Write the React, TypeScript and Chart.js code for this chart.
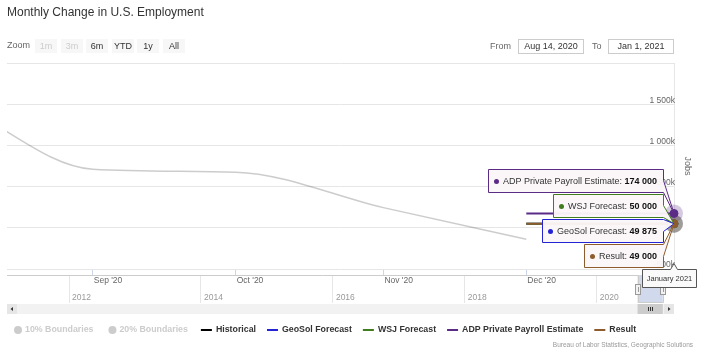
import React, { useEffect, useRef } from 'react';
import { Chart, registerables } from 'chart.js';

Chart.register(...registerables);

// ---------------- data ----------------
const historicalMonths = ['2020-07-01', '2020-08-01', '2020-09-01', '2020-10-01', '2020-11-01', '2020-12-01'];
const historicalJobs = [1763000, 1550000, 711000, 675000, 245000, -140000];
const forecastMonths = ['2020-12-01', '2021-01-01'];
const geoSolJobs = [49875, 49875];
const wsjJobs = [50000, 50000];
const adpJobs = [174000, 174000];
const resultJobs = [49000, 49000];

const rangeFrom = '2020-08-14';
const rangeTo = '2021-01-01';
const monthTickDates = ['2020-09-01', '2020-10-01', '2020-11-01', '2020-12-01'];
const monthTickLabels = ["Sep '20", "Oct '20", "Nov '20", "Dec '20"];
const jobTicks = [-500000, 0, 500000, 1000000, 1500000, 2000000];
const navigatorYears = [2012, 2014, 2016, 2018, 2020];
const navigatorRange = [2011.06, 2021.17];
const zoomButtons = ['1m', '3m', '6m', 'YTD', '1y', 'All'];
const disabledZoomButtons = ['1m', '3m'];
const hiddenLegendNames = ['10% Boundaries', '20% Boundaries'];
const seriesNames = ['Historical', 'GeoSol Forecast', 'WSJ Forecast', 'ADP Private Payroll Estimate', 'Result'];
const seriesColors = ['#000000', '#2424d4', '#3f7d1f', '#5b2c86', '#8e5c2c'];
const titleText = 'Monthly Change in U.S. Employment';
const fromText = 'Aug 14, 2020';
const toText = 'Jan 1, 2021';
const tooltipDateText = 'January 2021';
const creditsText = 'Bureau of Labor Statistics, Geographic Solutions';
const yAxisTitle = 'Jobs';

// ---------------- helpers ----------------
const FAMILY = '"Liberation Sans", Arial, sans-serif';
const font = (size: number, bold = false) => `${bold ? 'bold ' : ''}${size}px ${FAMILY}`;
const dayOf = (s: string) => {
  const [y, m, d] = s.split('-').map(Number);
  return Date.UTC(y, m - 1, d) / 86400000;
};
const yearFrac = (s: string) => {
  const [y] = s.split('-').map(Number);
  const start = Date.UTC(y, 0, 1) / 86400000;
  const end = Date.UTC(y + 1, 0, 1) / 86400000;
  return y + (dayOf(s) - start) / (end - start);
};
const spaced = (v: number) => v.toLocaleString('en-US').replace(/,/g, ' ');
const rgba = (hex: string, a: number) => {
  const n = parseInt(hex.slice(1), 16);
  return `rgba(${(n >> 16) & 255},${(n >> 8) & 255},${n & 255},${a})`;
};

const forecastSeries = [geoSolJobs, wsjJobs, adpJobs, resultJobs];

// ---------------- plugins ----------------
const haloPlugin = {
  id: 'halo',
  beforeDatasetsDraw(chart: any) {
    const ctx = chart.ctx;
    ctx.save();
    [1, 2, 3, 4].forEach((i) => {
      const pt = chart.getDatasetMeta(i).data[1];
      if (!pt) return;
      ctx.fillStyle = rgba(seriesColors[i], 0.25);
      ctx.beginPath();
      ctx.arc(pt.x, pt.y, 9, 0, Math.PI * 2);
      ctx.fill();
    });
    ctx.restore();
  },
};

function callout(ctx: any, bx: number, by: number, bw: number, bh: number, ax: number, ay: number) {
  const r = bx + bw;
  const c = Math.min(Math.max(ay, by + 6), by + bh - 6);
  ctx.beginPath();
  ctx.moveTo(bx, by);
  ctx.lineTo(r, by);
  ctx.lineTo(r, c - 6);
  ctx.lineTo(ax, ay);
  ctx.lineTo(r, c + 6);
  ctx.lineTo(r, by + bh);
  ctx.lineTo(bx, by + bh);
  ctx.closePath();
}

const overlayPlugin = {
  id: 'overlay',
  afterDraw(chart: any) {
    const ctx = chart.ctx;
    const nav = chart.scales.nav;
    const xs = chart.scales.x;
    const area = chart.chartArea;
    ctx.save();

    // ---- navigator mask, outline, handles ----
    const mx0 = nav.getPixelForValue(yearFrac(rangeFrom));
    const mx1 = nav.getPixelForValue(yearFrac(rangeTo));
    const nTop = nav.top;
    const nBot = nav.bottom;
    ctx.fillStyle = 'rgba(102,133,194,0.3)';
    ctx.fillRect(mx0, nTop, mx1 - mx0, nBot - nTop);
    ctx.strokeStyle = '#cccccc';
    ctx.lineWidth = 1;
    ctx.beginPath();
    ctx.moveTo(area.left, nTop + 0.5);
    ctx.lineTo(Math.round(mx0) + 0.5, nTop + 0.5);
    ctx.lineTo(Math.round(mx0) + 0.5, nBot - 0.5);
    ctx.lineTo(Math.round(mx1) + 0.5, nBot - 0.5);
    ctx.lineTo(Math.round(mx1) + 0.5, nTop + 0.5);
    ctx.lineTo(area.right, nTop + 0.5);
    ctx.stroke();
    [mx0, mx1].forEach((hx) => {
      const hy = nTop + 9;
      ctx.fillStyle = '#f2f2f2';
      ctx.strokeStyle = '#999999';
      ctx.fillRect(Math.round(hx) - 2.5, hy, 5, 10);
      ctx.strokeRect(Math.round(hx) - 2.5, hy + 0.5, 5, 10);
      ctx.beginPath();
      ctx.moveTo(Math.round(hx) + 0.5, hy + 3);
      ctx.lineTo(Math.round(hx) + 0.5, hy + 8);
      ctx.stroke();
    });

    // ---- scrollbar ----
    const sy = nBot + 1;
    const sh = 10;
    ctx.fillStyle = '#f2f2f2';
    ctx.fillRect(area.left, sy, area.right - area.left, sh);
    ctx.fillStyle = '#e6e6e6';
    ctx.fillRect(area.left, sy, 10, sh);
    ctx.fillRect(area.right - 10, sy, 10, sh);
    ctx.fillStyle = '#cccccc';
    ctx.fillRect(mx0, sy, mx1 - mx0, sh);
    ctx.fillStyle = '#333333';
    ctx.beginPath();
    ctx.moveTo(area.left + 3.5, sy + 5);
    ctx.lineTo(area.left + 6, sy + 3);
    ctx.lineTo(area.left + 6, sy + 7);
    ctx.fill();
    ctx.beginPath();
    ctx.moveTo(area.right - 3.5, sy + 5);
    ctx.lineTo(area.right - 6, sy + 3);
    ctx.lineTo(area.right - 6, sy + 7);
    ctx.fill();
    ctx.strokeStyle = '#333333';
    const rc = Math.round((mx0 + mx1) / 2);
    [-2, 0, 2].forEach((d) => {
      ctx.beginPath();
      ctx.moveTo(rc + d + 0.5, sy + 3);
      ctx.lineTo(rc + d + 0.5, sy + 7);
      ctx.stroke();
    });

    // ---- split tooltips ----
    const entries = [1, 2, 3, 4]
      .map((i) => {
        const pt = chart.getDatasetMeta(i).data[1];
        return { name: seriesNames[i], color: seriesColors[i], value: forecastSeries[i - 1][1], x: pt.x, y: pt.y };
      })
      .sort((a, b) => b.value - a.value);
    const bh = 23;
    const gap = 2;
    const total = entries.length * bh + (entries.length - 1) * gap;
    const meanY = entries.reduce((s, e) => s + e.y, 0) / entries.length;
    let by = Math.round(meanY - total / 2) - 3;
    entries.forEach((e) => {
      ctx.font = font(9);
      const label = `${e.name}: `;
      const lw = ctx.measureText(label).width;
      ctx.font = font(9, true);
      const val = spaced(e.value);
      const vw = ctx.measureText(val).width;
      const bw = Math.round(15 + lw + vw + 6);
      const right = Math.round(e.x) - 11;
      const bx = right - bw;
      callout(ctx, bx + 0.5, by + 0.5, bw, bh, e.x, e.y);
      ctx.fillStyle = 'rgba(251,247,248,0.96)';
      ctx.fill();
      ctx.strokeStyle = e.color;
      ctx.lineWidth = 1;
      ctx.stroke();
      const cy = by + bh / 2 + 1;
      ctx.fillStyle = e.color;
      ctx.beginPath();
      ctx.arc(bx + 8.5, cy, 2.5, 0, Math.PI * 2);
      ctx.fill();
      ctx.textBaseline = 'middle';
      ctx.textAlign = 'left';
      ctx.font = font(9);
      ctx.fillStyle = '#333333';
      ctx.fillText(label, bx + 15, cy);
      ctx.font = font(9, true);
      ctx.fillStyle = '#111111';
      ctx.fillText(val, bx + 15 + lw, cy);
      by += bh + gap;
    });

    // ---- x axis crosshair label ----
    const ax = xs.getPixelForValue(dayOf(rangeTo));
    ctx.font = font(7.5);
    const tw = ctx.measureText(tooltipDateText).width;
    const tbw = Math.round(tw + 9);
    const tbx = Math.min(Math.round(ax - tbw / 2), 696 - tbw);
    const tby = area.bottom;
    const tbh = 18;
    ctx.beginPath();
    ctx.moveTo(tbx + 0.5, tby + 0.5);
    ctx.lineTo(ax - 3.5, tby + 0.5);
    ctx.lineTo(ax, tby - 5.5);
    ctx.lineTo(ax + 3.5, tby + 0.5);
    ctx.lineTo(tbx + tbw + 0.5, tby + 0.5);
    ctx.lineTo(tbx + tbw + 0.5, tby + tbh + 0.5);
    ctx.lineTo(tbx + 0.5, tby + tbh + 0.5);
    ctx.closePath();
    ctx.fillStyle = 'rgba(250,250,250,0.97)';
    ctx.fill();
    ctx.strokeStyle = '#555555';
    ctx.stroke();
    ctx.fillStyle = '#333333';
    ctx.textAlign = 'center';
    ctx.textBaseline = 'middle';
    ctx.fillText(tooltipDateText, tbx + tbw / 2 + 0.5, tby + tbh / 2 + 1);

    // ---- header ----
    ctx.textAlign = 'left';
    ctx.textBaseline = 'alphabetic';
    ctx.fillStyle = '#333333';
    ctx.font = font(12);
    ctx.fillText(titleText, 7, 16);

    ctx.textBaseline = 'middle';
    ctx.font = font(9);
    ctx.fillStyle = '#666666';
    ctx.fillText('Zoom', 7, 46);
    zoomButtons.forEach((b, i) => {
      const x = Math.round(35 + i * 25.6);
      ctx.fillStyle = '#f7f7f7';
      ctx.fillRect(x, 39, 22, 14);
      ctx.fillStyle = disabledZoomButtons.includes(b) ? '#cccccc' : '#333333';
      ctx.textAlign = 'center';
      ctx.fillText(b, x + 11, 46.5);
    });
    ctx.textAlign = 'left';
    ctx.fillStyle = '#666666';
    ctx.fillText('From', 490, 46.5);
    ctx.fillText('To', 592, 46.5);
    [[518, fromText], [608, toText]].forEach(([x, t]: any) => {
      ctx.fillStyle = '#ffffff';
      ctx.fillRect(x, 39, 65, 14);
      ctx.strokeStyle = '#cccccc';
      ctx.strokeRect(x + 0.5, 39.5, 65, 14);
      ctx.fillStyle = '#333333';
      ctx.textAlign = 'center';
      ctx.fillText(t, x + 33, 46.5);
      ctx.textAlign = 'left';
    });

    // ---- legend ----
    const ly = 330;
    let lx = 12;
    ctx.font = font(8.8, true);
    ctx.textBaseline = 'middle';
    hiddenLegendNames.forEach((n) => {
      ctx.fillStyle = '#cccccc';
      ctx.beginPath();
      ctx.arc(lx + 6, ly, 4, 0, Math.PI * 2);
      ctx.fill();
      ctx.fillText(n, lx + 13, ly);
      lx += 13 + ctx.measureText(n).width + 13;
    });
    seriesNames.forEach((n, i) => {
      ctx.strokeStyle = seriesColors[i];
      ctx.lineWidth = 2;
      ctx.beginPath();
      ctx.moveTo(lx, ly);
      ctx.lineTo(lx + 11, ly);
      ctx.stroke();
      ctx.fillStyle = '#333333';
      ctx.fillText(n, lx + 15, ly);
      lx += 15 + ctx.measureText(n).width + 11;
    });

    // ---- credits ----
    ctx.font = font(6.5);
    ctx.fillStyle = '#999999';
    ctx.textAlign = 'right';
    ctx.fillText(creditsText, 693, 345);
    ctx.restore();
  },
};

// ---------------- component ----------------
export default function App() {
  const ref = useRef<HTMLCanvasElement>(null);
  useEffect(() => {
    const canvas = ref.current;
    if (!canvas) return;
    const forecastDataset = (i: number, values: number[], order: number) => ({
      label: seriesNames[i],
      data: forecastMonths.map((m, k) => ({ x: dayOf(m), y: values[k] })),
      borderColor: seriesColors[i],
      backgroundColor: seriesColors[i],
      borderWidth: 2,
      pointRadius: (c: any) => (c.dataIndex === 1 ? 4 : 0),
      pointHoverRadius: (c: any) => (c.dataIndex === 1 ? 4 : 0),
      pointBorderWidth: 1,
      clip: 12,
      order,
    });
    const chart = new Chart(canvas, {
      type: 'line',
      data: {
        datasets: [
          {
            label: seriesNames[0],
            data: historicalMonths.map((m, k) => ({ x: dayOf(m), y: historicalJobs[k] })),
            borderColor: 'rgba(0,0,0,0.2)',
            borderWidth: 1.5,
            pointRadius: 0,
            cubicInterpolationMode: 'monotone',
            order: 5,
          },
          forecastDataset(1, geoSolJobs, 4),
          forecastDataset(2, wsjJobs, 3),
          forecastDataset(3, adpJobs, 2),
          forecastDataset(4, resultJobs, 1),
        ] as any,
      },
      options: {
        responsive: false,
        maintainAspectRatio: false,
        devicePixelRatio: 1,
        animation: false,
        events: [],
        layout: { padding: { left: 7, top: 63, right: 0, bottom: 48 } },
        elements: { line: { capBezierPoints: false } },
        plugins: { legend: { display: false }, tooltip: { enabled: false }, title: { display: false } },
        scales: {
          x: {
            type: 'linear',
            position: 'bottom',
            weight: 0,
            min: dayOf(rangeFrom),
            max: dayOf(rangeTo),
            afterBuildTicks: (s: any) => {
              s.ticks = monthTickDates.map((d) => ({ value: dayOf(d) }));
            },
            afterFit: (s: any) => {
              s.height = 6;
            },
            ticks: {
              autoSkip: false,
              maxRotation: 0,
              align: 'start',
              mirror: true,
              labelOffset: 1,
              padding: -17,
              color: '#666666',
              font: { family: FAMILY, size: 8.5 },
              callback: (_v: any, i: number) => monthTickLabels[i],
            },
            grid: { drawOnChartArea: false, drawTicks: true, tickLength: 6, color: '#ccd6eb' },
            border: { display: false },
          },
          nav: {
            type: 'linear',
            position: 'bottom',
            weight: 1,
            min: navigatorRange[0],
            max: navigatorRange[1],
            afterBuildTicks: (s: any) => {
              s.ticks = navigatorYears.map((y) => ({ value: y }));
            },
            afterFit: (s: any) => {
              s.height = 28;
            },
            ticks: {
              autoSkip: false,
              maxRotation: 0,
              align: 'start',
              labelOffset: 3,
              padding: -10.5,
              color: '#999999',
              font: { family: FAMILY, size: 8.5 },
              callback: (_v: any, i: number) => String(navigatorYears[i]),
            },
            grid: { drawOnChartArea: false, drawTicks: true, tickLength: 28, color: '#e6e6e6' },
            border: { display: false },
          },
          y: {
            type: 'linear',
            position: 'right',
            min: jobTicks[0],
            max: jobTicks[jobTicks.length - 1],
            afterBuildTicks: (s: any) => {
              s.ticks = jobTicks.map((v) => ({ value: v }));
            },
            afterFit: (s: any) => {
              s.width = 27;
            },
            ticks: {
              mirror: true,
              padding: 1,
              labelOffset: -4,
              color: '#666666',
              font: { family: FAMILY, size: 8.5 },
              callback: (v: any) => (v === jobTicks[jobTicks.length - 1] ? '' : `${spaced(v / 1000)}k`),
            },
            grid: { color: '#e6e6e6', drawTicks: false },
            border: { display: true, color: '#e6e6e6' },
            title: {
              display: true,
              text: yAxisTitle,
              color: '#666666',
              font: { family: FAMILY, size: 9 },
              padding: { top: 8.6, bottom: 0 },
            },
          },
        } as any,
      },
      plugins: [haloPlugin, overlayPlugin],
    });
    return () => chart.destroy();
  }, []);
  return (
    <div style={{ position: 'fixed', left: 0, top: 0, width: 701, height: 351, background: '#ffffff' }}>
      <canvas ref={ref} width={701} height={351} style={{ display: 'block', width: 701, height: 351 }} />
    </div>
  );
}
